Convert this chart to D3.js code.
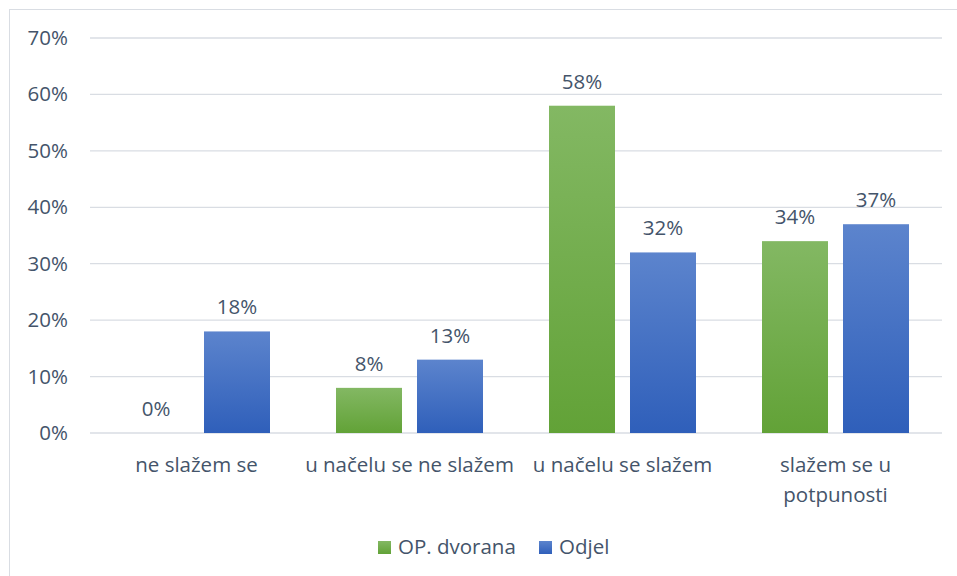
<!DOCTYPE html>
<html lang="hr">
<head>
<meta charset="UTF-8">
<title>Bar Chart</title>
<script src="https://d3js.org/d3.v7.min.js"></script>
<style>
    body { margin: 0; background: #fff; }
    text { font-family: "Open Sans", Lato, sans-serif; fill: #44546a; }
</style>
</head>
<body>
<svg id="main" width="957" height="576"></svg>
<script>
    // data
    const categories = [['ne slažem se'], ['u načelu se ne slažem'], ['u načelu se slažem'], ['slažem se u', 'potpunosti']];
    const seriesNames = ['OP. dvorana', 'Odjel'];
    const dvorana = [0, 8, 58, 34];
    const odjel = [18, 13, 32, 37];
    const yTicks = [0, 10, 20, 30, 40, 50, 60, 70];

    const colors = {
        'OP. dvorana': ['#83b863', '#62a237'],
        'Odjel': ['#5c84cd', '#2f5fba']
    };

    let svg = d3.select('svg#main');
    let mLeft = 90, mRight = 942, mTop = 38, mBottom = 433;
    let fs = '20.5px';

    // chart frame
    svg.append('rect')
        .attr('x', 9.5).attr('y', 9.5)
        .attr('width', 960).attr('height', 600)
        .attr('fill', 'none').attr('stroke', '#d9dde3');

    let defs = svg.append('defs');
    seriesNames.forEach((s, i) => {
        let g = defs.append('linearGradient')
            .attr('id', 'grad' + i)
            .attr('x1', 0).attr('y1', 0).attr('x2', 0).attr('y2', 1);
        g.append('stop').attr('offset', '0%').attr('stop-color', colors[s][0]);
        g.append('stop').attr('offset', '100%').attr('stop-color', colors[s][1]);
    });

    let keys = categories.map(c => c.join(' '));
    let x = d3.scaleBand().domain(keys).range([mLeft, mRight]);
    let y = d3.scaleLinear().domain([0, 70]).range([mBottom, mTop]);

    // grid + y labels
    svg.append('g').selectAll('line').data(yTicks).enter().append('line')
        .attr('x1', mLeft).attr('x2', mRight)
        .attr('y1', d => y(d)).attr('y2', d => y(d))
        .attr('stroke', '#d9dde3').attr('stroke-width', 1.3);

    svg.append('g').selectAll('text').data(yTicks).enter().append('text')
        .attr('x', 68).attr('y', d => y(d) + 7)
        .attr('text-anchor', 'end')
        .style('font-size', fs)
        .text(d => d + '%');

    let barW = 66, gap = 15;
    let data = [];
    keys.forEach((k, i) => {
        data.push({ cat: k, s: 0, v: dvorana[i] });
        data.push({ cat: k, s: 1, v: odjel[i] });
    });
    let bx = d => x(d.cat) + x.bandwidth() / 2 + (d.s === 0 ? -gap / 2 - barW : gap / 2);

    svg.append('g').selectAll('rect').data(data).enter().append('rect')
        .attr('x', bx)
        .attr('y', d => y(d.v))
        .attr('width', barW)
        .attr('height', d => y(0) - y(d.v))
        .attr('fill', d => 'url(#grad' + d.s + ')');

    svg.append('g').selectAll('text').data(data).enter().append('text')
        .attr('x', d => bx(d) + barW / 2)
        .attr('y', d => y(d.v) - 17)
        .attr('text-anchor', 'middle')
        .style('font-size', fs)
        .text(d => d.v + '%');

    // category labels
    let cat = svg.append('g').selectAll('text').data(categories).enter().append('text')
        .attr('x', (d, i) => x(keys[i]) + x.bandwidth() / 2)
        .attr('y', 472)
        .attr('text-anchor', 'middle')
        .style('font-size', fs);
    cat.selectAll('tspan').data(d => d).enter().append('tspan')
        .attr('x', function () { return d3.select(this.parentNode).attr('x'); })
        .attr('dy', (d, i) => i === 0 ? 0 : 30)
        .text(d => d);

    // legend
    let legend = svg.append('g').attr('transform', 'translate(378,541)');
    let lx = [0, 161];
    seriesNames.forEach((s, i) => {
        legend.append('rect').attr('x', lx[i]).attr('y', 0)
            .attr('width', 13).attr('height', 13)
            .attr('fill', 'url(#grad' + i + ')');
        legend.append('text').attr('x', lx[i] + 20).attr('y', 13)
            .style('font-size', fs)
            .text(s);
    });
</script>
</body>
</html>
